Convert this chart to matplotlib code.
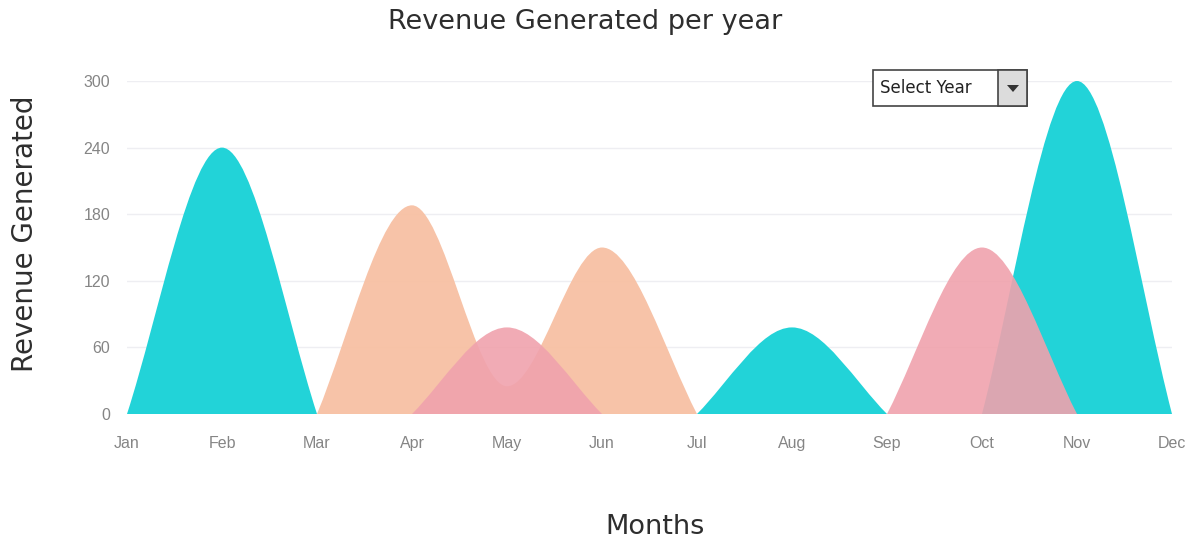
import numpy as np
import matplotlib.pyplot as plt
from matplotlib.path import Path
from matplotlib.patches import PathPatch, Rectangle, Polygon

# data (monthly revenue)
months = ['Jan', 'Feb', 'Mar', 'Apr', 'May', 'Jun', 'Jul', 'Aug', 'Sep', 'Oct', 'Nov', 'Dec']
cyan_vals = [0, 240, 0, 0, 0, 0, 0, 78, 0, 0, 300, 0]
orange_vals = [0, 0, 0, 188, 25, 150, 0, 0, 0, 0, 0, 0]
pink_vals = [0, 0, 0, 0, 78, 0, 0, 0, 0, 150, 0, 0]
yticks = [0, 60, 120, 180, 240, 300]

colors = {'cyan': '#22d3d8', 'orange': '#f7c0a3', 'pink': '#f0a2ad'}


def humps(vals):
    # split series into runs between zero baseline points
    runs = []
    n = len(vals)
    i = 0
    while i < n - 1:
        if vals[i] == 0 and vals[i + 1] != 0:
            j = i + 1
            while j < n and vals[j] != 0:
                j += 1
            runs.append(list(range(i, min(j, n - 1) + 1)))
            i = j
        else:
            i += 1
    return runs


def smooth_path(xs, ys):
    # monotone-style cubic through the points, as a bezier path
    xs = np.asarray(xs, float)
    ys = np.asarray(ys, float)
    n = len(xs)
    h = np.diff(xs)
    s = np.diff(ys) / h
    t = np.zeros(n)
    for k in range(1, n - 1):
        s0, s1 = s[k - 1], s[k]
        p = (s0 * h[k] + s1 * h[k - 1]) / (h[k - 1] + h[k])
        sg = (1 if s0 >= 0 else -1) + (1 if s1 >= 0 else -1)
        t[k] = sg * min(abs(s0), abs(s1), 0.5 * abs(p))
    t[0] = 1.1 * s[0]
    t[-1] = 1.1 * s[-1]
    verts = [(xs[0], 0), (xs[0], ys[0])]
    codes = [Path.MOVETO, Path.LINETO]
    for k in range(n - 1):
        dx = h[k] / 3
        verts += [(xs[k] + dx, ys[k] + dx * t[k]),
                  (xs[k + 1] - dx, ys[k + 1] - dx * t[k + 1]),
                  (xs[k + 1], ys[k + 1])]
        codes += [Path.CURVE4] * 3
    verts += [(xs[-1], 0), (xs[0], 0)]
    codes += [Path.LINETO, Path.CLOSEPOLY]
    return Path(verts, codes)


W, H = 1194, 544
fig = plt.figure(figsize=(11.94, 5.44), dpi=100)
ax = fig.add_axes([127 / W, 1 - 414 / H, 1045 / W, 333 / H])

x = np.arange(len(months))
for name, vals, alpha in [('cyan', cyan_vals, 1.0), ('orange', orange_vals, 0.95), ('pink', pink_vals, 0.9)]:
    for run in humps(vals):
        path = smooth_path(x[run], [vals[r] for r in run])
        ax.add_patch(PathPatch(path, facecolor=colors[name], edgecolor='none',
                               alpha=alpha, clip_on=False, zorder=2))

ax.set_xlim(0, 11)
ax.set_ylim(0, 300)
ax.set_xticks(x)
ax.set_xticklabels(months)
ax.set_yticks(yticks)
ax.tick_params(length=0, labelcolor='#858585', labelsize=11.5)
ax.tick_params(axis='x', pad=16)
ax.tick_params(axis='y', pad=12)
for lab in ax.get_xticklabels() + ax.get_yticklabels():
    lab.set_fontfamily('Liberation Sans')
ax.grid(axis='y', color='#eeeef2', linewidth=1)
ax.set_axisbelow(True)
for sp in ax.spines.values():
    sp.set_visible(False)

fig.text(585 / W, 1 - 22 / H, 'Revenue Generated per year', ha='center', va='center',
         fontsize=19.5, color='#2e2e2e', family='DejaVu Sans')
fig.text(25 / W, 1 - 234 / H, 'Revenue Generated', ha='center', va='center',
         rotation=90, fontsize=20, color='#2e2e2e', family='DejaVu Sans')
fig.text(655 / W, 1 - 527 / H, 'Months', ha='center', va='center',
         fontsize=19.5, color='#2e2e2e', family='DejaVu Sans')

# "Select Year" dropdown
fig.patches.append(Rectangle((873 / W, 1 - 106 / H), 154 / W, 36 / H, transform=fig.transFigure,
                             facecolor='white', edgecolor='#444444', linewidth=1.2, zorder=5))
fig.patches.append(Rectangle((998 / W, 1 - 106 / H), 29 / W, 36 / H, transform=fig.transFigure,
                             facecolor='#dcdcdc', edgecolor='#444444', linewidth=1.2, zorder=5))
fig.patches.append(Polygon([(1007 / W, 1 - 85 / H), (1019 / W, 1 - 85 / H), (1013 / W, 1 - 92 / H)],
                           closed=True, transform=fig.transFigure, facecolor='#333333',
                           edgecolor='none', zorder=6))
fig.text(880 / W, 1 - 88 / H, 'Select Year', ha='left', va='center', fontsize=12,
         color='#222222', family='DejaVu Sans', zorder=7)

plt.savefig('out.png', dpi=100)
